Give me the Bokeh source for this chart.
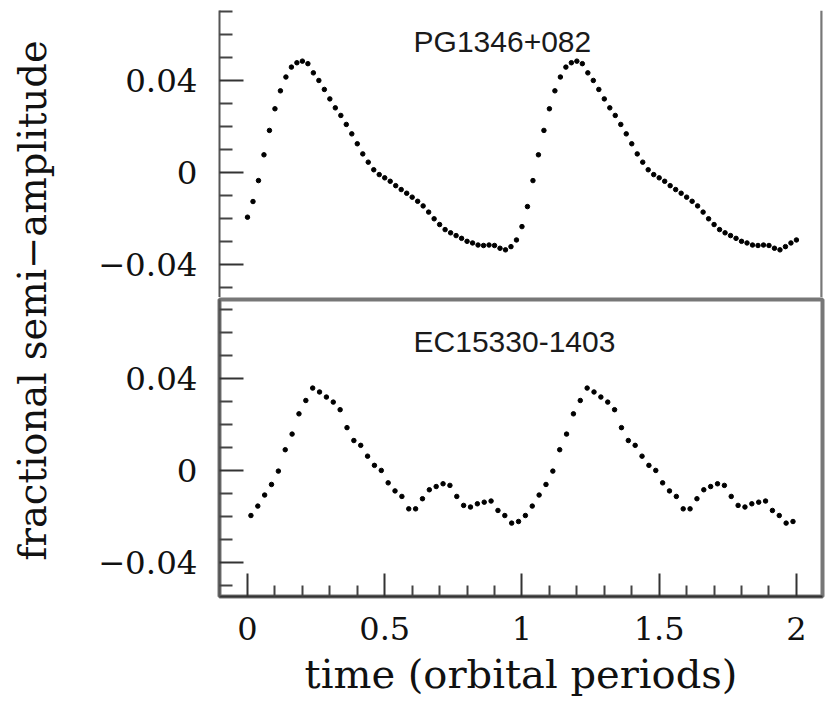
import math
from bokeh.plotting import figure
from bokeh.layouts import row, column
from bokeh.models import (FixedTicker, Span, ColumnDataSource, Range1d, Label,
                          CustomJSTickFormatter)
from bokeh.embed import file_html
from bokeh.resources import INLINE

# ---------------- data ----------------
titles = ["PG1346+082", "EC15330-1403"]
x_ticks = [0, 0.5, 1, 1.5, 2]
x_minor = [0.1, 0.2, 0.3, 0.4, 0.6, 0.7, 0.8, 0.9, 1.1, 1.2, 1.3, 1.4,
           1.6, 1.7, 1.8, 1.9]
y_ticks = [-0.04, 0, 0.04]
y_minor = [-0.05, -0.03, -0.02, -0.01, 0.01, 0.02, 0.03, 0.05, 0.06, 0.07]

# PG1346+082 : 101 phase bins over two orbital periods
top_t = [round(0.02 * i, 2) for i in range(101)]
top_v = [
    -0.0194, -0.0126, -0.0035, 0.0077, 0.0183, 0.0277, 0.0355, 0.0415, 0.0458, 0.0477,
    0.0484, 0.0473, 0.0433, 0.0400, 0.0361, 0.0320, 0.0281, 0.0248, 0.0209, 0.0168,
    0.0125, 0.0081, 0.0045, 0.0012, -0.0009, -0.0023, -0.0038, -0.0057, -0.0074, -0.0090,
    -0.0107, -0.0125, -0.0145, -0.0172, -0.0201, -0.0226, -0.0248, -0.0262, -0.0274, -0.0286,
    -0.0299, -0.0306, -0.0315, -0.0317, -0.0315, -0.0317, -0.0329, -0.0336, -0.0322, -0.0293,
    -0.0235,
    -0.0148, -0.0035, 0.0077, 0.0183, 0.0277, 0.0355, 0.0415, 0.0458, 0.0477, 0.0484,
    0.0473, 0.0433, 0.0400, 0.0361, 0.0320, 0.0281, 0.0248, 0.0209, 0.0168, 0.0125,
    0.0081, 0.0045, 0.0012, -0.0009, -0.0023, -0.0038, -0.0057, -0.0074, -0.0090, -0.0107,
    -0.0125, -0.0145, -0.0172, -0.0201, -0.0226, -0.0248, -0.0262, -0.0274, -0.0286, -0.0299,
    -0.0306, -0.0315, -0.0317, -0.0315, -0.0317, -0.0329, -0.0336, -0.0322, -0.0306, -0.0293,
]

# EC15330-1403 : 40 phase bins per period, shown twice
bot_cycle = [
    -0.0196, -0.0155, -0.0107, -0.0061, -0.0003, 0.0090, 0.0158, 0.0246, 0.0304, 0.0358,
    0.0341, 0.0319, 0.0297, 0.0264, 0.0186, 0.0130, 0.0109, 0.0062, 0.0022, 0.0000,
    -0.0054, -0.0089, -0.0113, -0.0167, -0.0167, -0.0123, -0.0084, -0.0070, -0.0058, -0.0065,
    -0.0113, -0.0152, -0.0159, -0.0145, -0.0138, -0.0133, -0.0174, -0.0196, -0.0229, -0.0222,
]
bot_t = [0.0125 + 0.025 * i for i in range(80)]
bot_v = bot_cycle + bot_cycle

# ---------------- styling helpers ----------------
SERIF = "DejaVu Serif"
LAB_W = 90
x_range = Range1d(-0.102, 2.095)

y_fmt = CustomJSTickFormatter(code="""
    if (Math.abs(tick) < 1e-9) return "0";
    const s = Math.abs(tick).toFixed(2);
    return tick < 0 ? "\\u2212" + s : s;
""")
x_fmt = CustomJSTickFormatter(code="return String(Math.round(tick*10)/10);")


def style_y(ax):
    ax.ticker = FixedTicker(ticks=y_ticks, minor_ticks=y_minor)
    ax.formatter = y_fmt
    ax.major_tick_in = 24
    ax.major_tick_out = 0
    ax.minor_tick_in = 13
    ax.minor_tick_out = 0
    ax.major_tick_line_color = "#333333"
    ax.minor_tick_line_color = "#444444"
    ax.major_tick_line_width = 2
    ax.minor_tick_line_width = 2
    ax.axis_line_color = "#555555"
    ax.axis_line_width = 2
    ax.major_label_text_font = SERIF
    ax.major_label_text_font_size = "32.5px"
    ax.major_label_text_color = "#111111"
    ax.major_label_standoff = 22


def make_panel(frame_h, border_top, yr, with_x):
    p = figure(frame_width=603, frame_height=frame_h,
               x_range=x_range, y_range=Range1d(*yr),
               toolbar_location=None, output_backend="svg",
               x_axis_location="below" if with_x else None,
               y_axis_location="left",
               min_border_left=219 - LAB_W, min_border_right=3,
               min_border_top=border_top, min_border_bottom=0)
    p.grid.visible = False
    p.background_fill_color = "white"
    p.border_fill_color = "white"
    style_y(p.yaxis[0])
    return p


# ---------------- top panel ----------------
top = make_panel(287, 10, (-0.0543, 0.0704), False)
top.outline_line_color = None
top.add_layout(Span(location=2.0925, dimension="height", line_color="#777777",
                    line_width=3))
top.scatter(x="t", y="v", source=ColumnDataSource(dict(t=top_t, v=top_v)),
            size=4.5, color="black")
top.add_layout(Label(x=0.605, y=0.057, text=titles[0], text_font="Liberation Sans",
                     text_font_size="30px", text_align="left",
                     text_baseline="alphabetic", text_color="#1a1a1a"))

# ---------------- bottom panel ----------------
bot = make_panel(297, 2, (-0.0548, 0.0743), True)
bot.outline_line_color = "#777777"
bot.outline_line_width = 4
bot.scatter(x="t", y="v", source=ColumnDataSource(dict(t=bot_t, v=bot_v)),
            size=4.5, color="black")
bot.add_layout(Label(x=0.605, y=0.0561, text=titles[1], text_font="Liberation Sans",
                     text_font_size="30px", text_align="left",
                     text_baseline="alphabetic", text_color="#1a1a1a"))

xa = bot.xaxis[0]
xa.ticker = FixedTicker(ticks=x_ticks, minor_ticks=x_minor)
xa.formatter = x_fmt
xa.major_tick_in = 23
xa.major_tick_out = 0
xa.minor_tick_in = 11
xa.minor_tick_out = 0
xa.major_tick_line_color = "#333333"
xa.minor_tick_line_color = "#444444"
xa.major_tick_line_width = 2
xa.minor_tick_line_width = 2
xa.axis_line_color = "#333333"
xa.axis_line_width = 2
xa.major_label_text_font = SERIF
xa.major_label_text_font_size = "32px"
xa.major_label_text_color = "#111111"
xa.major_label_standoff = 20
xa.axis_label = "time (orbital periods)"
xa.axis_label_text_font = SERIF
xa.axis_label_text_font_size = "40px"
xa.axis_label_text_font_style = "normal"
xa.axis_label_text_color = "#111111"
xa.axis_label_standoff = 8

# ---------------- shared y label ----------------
lab = figure(width=LAB_W, height=701, x_range=(0, LAB_W), y_range=(0, 701),
             toolbar_location=None, output_backend="svg",
             x_axis_location=None, y_axis_location=None,
             min_border=0, outline_line_color=None)
lab.grid.visible = False
lab.add_layout(Label(x=32, y=401, text="fractional semi\u2212amplitude",
                     angle=math.pi / 2, text_align="center",
                     text_baseline="alphabetic", text_font=SERIF,
                     text_font_size="38.5px", text_color="#111111"))

layout = row(lab, column(top, bot))
open("out.html", "w").write(file_html(layout, INLINE))
